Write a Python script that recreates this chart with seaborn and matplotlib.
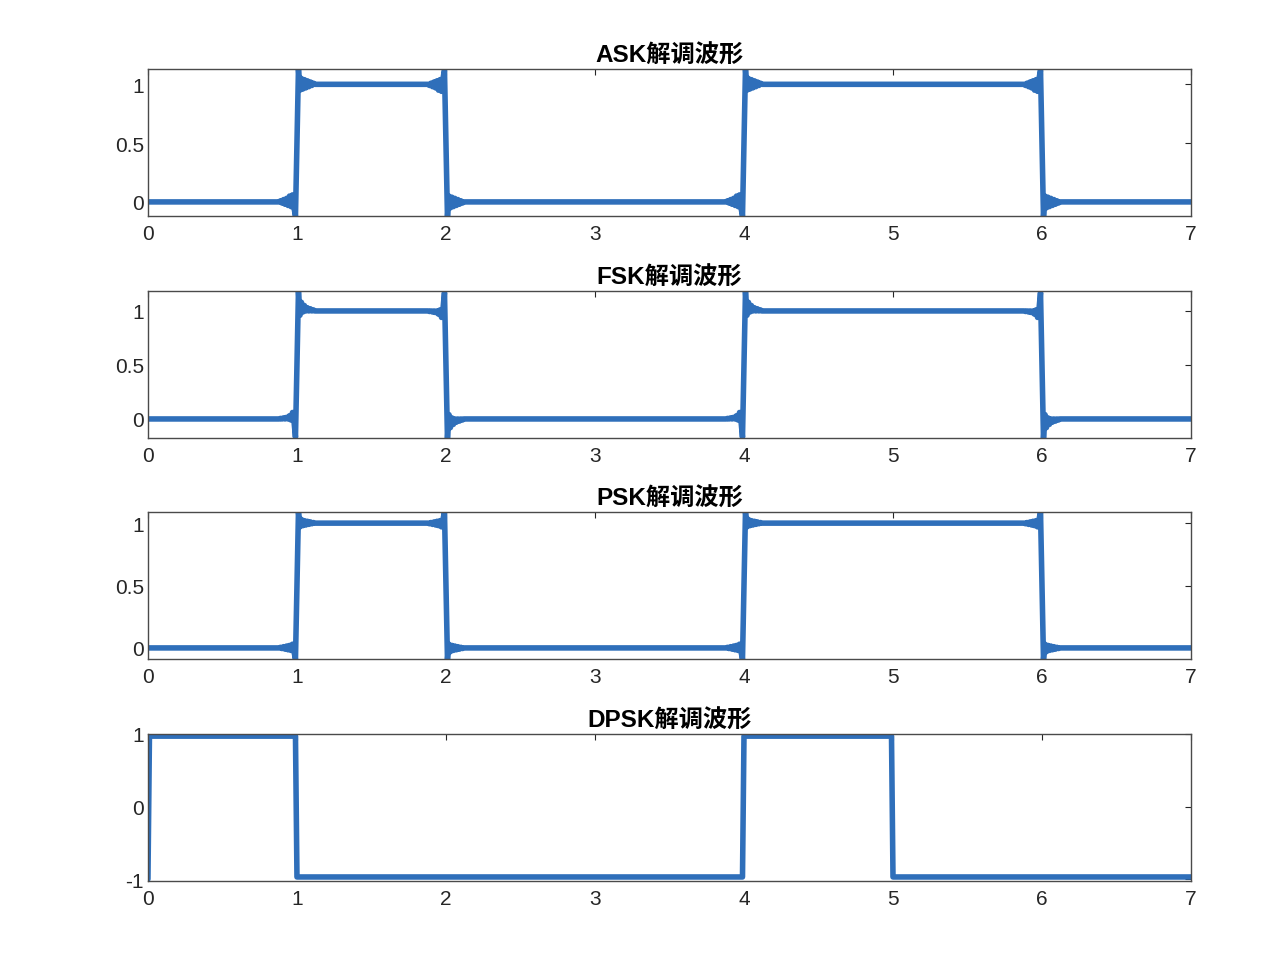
import numpy as np
import pandas as pd
import seaborn as sns
from matplotlib import pyplot as plt

# demodulated bit levels per symbol (0..7)
ask_levels = [0, 1, 0, 0, 1, 1, 0]
fsk_levels = [0, 1, 0, 0, 1, 1, 0]
psk_levels = [0, 1, 0, 0, 1, 1, 0]
dpsk_levels = [0.97, -0.97, -0.97, -0.97, 0.97, -0.97, -0.97]
dpsk_start = -1.0

# normalised edge response, samples k=-12..12 around each bit change
ask_edge = [0.0, 0.01, -0.01, 0.02, -0.02, 0.03, -0.03, 0.05, -0.04, 0.06, -0.05, -0.12,
            0.5,
            1.13, 0.95, 1.05, 0.96, 1.04, 0.97, 1.03, 0.98, 1.02, 0.99, 1.01, 1.0]
fsk_edge = [0.0, 0.005, 0.0, 0.01, 0.0, 0.015, 0.0, 0.03, -0.01, 0.06, -0.02, -0.17,
            0.5,
            1.18, 0.96, 1.08, 0.99, 1.05, 1.0, 1.03, 1.0, 1.02, 1.0, 1.01, 1.0]
psk_edge = [0.0, 0.005, -0.005, 0.01, -0.01, 0.015, -0.015, 0.02, -0.02, 0.03, -0.03, -0.09,
            0.5,
            1.09, 0.97, 1.03, 0.98, 1.02, 0.985, 1.015, 0.99, 1.01, 0.995, 1.005, 1.0]
dpsk_edge = [0.0] * 12 + [1.0] * 13

titles = ["ASK解调波形", "FSK解调波形", "PSK解调波形", "DPSK解调波形"]
ylims = [(-0.12, 1.13), (-0.176, 1.185), (-0.089, 1.089), (-1.025, 1.0)]
yticks = [[0, 0.5, 1], [0, 0.5, 1], [0, 0.5, 1], [-1, 0, 1]]
ytick_labels = [["0", "0.5", "1"], ["0", "0.5", "1"], ["0", "0.5", "1"], ["-1", "0", "1"]]

n_per = 100
t = np.arange(0, 7 * n_per + 1) / n_per


def build_wave(levels, edge, start=None):
    wave = np.append(np.repeat(np.array(levels, dtype=float), n_per), levels[-1])
    half = len(edge) // 2
    for i in range(1, len(levels)):
        a, b = levels[i - 1], levels[i]
        if a == b:
            continue
        for k, s in enumerate(edge):
            wave[i * n_per + k - half] = a + (b - a) * s
    if start is not None:
        wave[0] = start
    return wave


waves = [build_wave(ask_levels, ask_edge),
         build_wave(fsk_levels, fsk_edge),
         build_wave(psk_levels, psk_edge),
         build_wave(dpsk_levels, dpsk_edge, dpsk_start)]

sns.set_theme(style="white")
plt.rcParams['font.family'] = ['Liberation Sans', 'Noto Sans CJK SC', 'DejaVu Sans']
plt.rcParams['axes.unicode_minus'] = False

fig = plt.figure(figsize=(12.7, 9.62), dpi=100)
bottoms = [0.7744, 0.5437, 0.3139, 0.0832]

for i in range(4):
    ax = fig.add_axes([0.1165, bottoms[i], 0.8213, 0.1528])
    df = pd.DataFrame({"t": t, "y": waves[i]})
    sns.lineplot(data=df, x="t", y="y", ax=ax, color="#2f6fba", linewidth=4,
                 estimator=None, sort=False)
    ax.set_xlim(0, 7)
    ax.set_ylim(*ylims[i])
    ax.set_xticks(range(8))
    ax.set_xticklabels([str(v) for v in range(8)])
    ax.set_yticks(yticks[i])
    ax.set_yticklabels(ytick_labels[i])
    ax.set_xlabel("")
    ax.set_ylabel("")
    ax.set_title(titles[i], fontsize=17.5, fontweight="bold", color="black", pad=5)
    ax.tick_params(direction="in", top=True, right=True, length=4, width=0.8,
                   color="#262626", labelsize=15, labelcolor="#262626")
    ax.tick_params(axis="x", pad=6)
    ax.tick_params(axis="y", pad=3)
    for sp in ax.spines.values():
        sp.set_color("#4a4a4a")
        sp.set_linewidth(1.0)

fig.savefig("out.png", dpi=100)
